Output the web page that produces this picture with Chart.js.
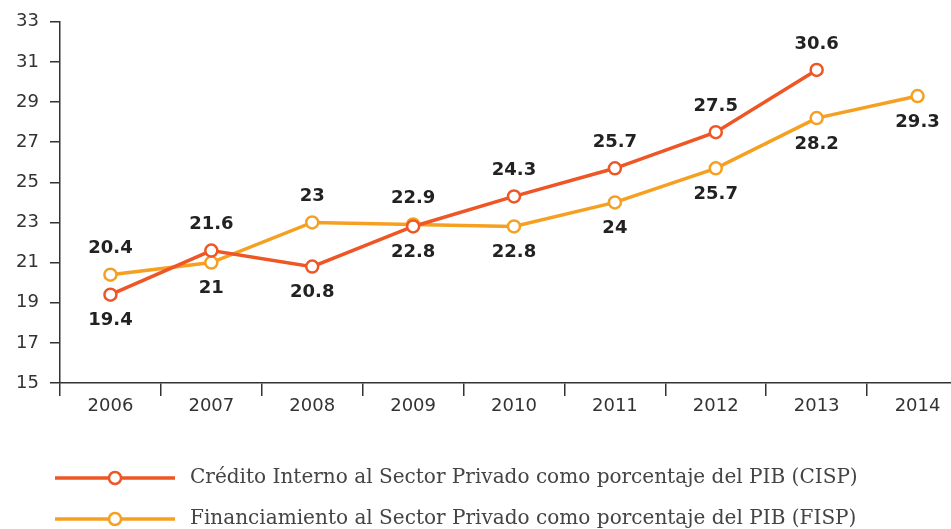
<!DOCTYPE html>
<html>
<head>
<meta charset="utf-8">
<script src="https://cdn.jsdelivr.net/npm/chart.js@4/dist/chart.umd.min.js"></script>
<style>
html,body{margin:0;padding:0;background:#fff;overflow:hidden;width:951px;height:529px;}
#wrap{width:990px;height:529px;}
</style>
</head>
<body>
<div id="wrap"><canvas id="c" width="990" height="529"></canvas></div>
<script>
const years = ['2006','2007','2008','2009','2010','2011','2012','2013','2014'];
const cispValues = [19.4, 21.6, 20.8, 22.8, 24.3, 25.7, 27.5, 30.6, null];
const fispValues = [20.4, 21.0, 23.0, 22.9, 22.8, 24.0, 25.7, 28.2, 29.3];
const cispLabel = 'Crédito Interno al Sector Privado como porcentaje del PIB (CISP)';
const fispLabel = 'Financiamiento al Sector Privado como porcentaje del PIB (FISP)';
// label placement: 1 = above the point, -1 = below
const cispLabelSide = [-1, 1, -1, -1, 1, 1, 1, 1, 1];
const fispLabelSide = [1, -1, 1, 1, -1, -1, -1, -1, -1];

const CISP_COLOR = '#EE5725';
const FISP_COLOR = '#F6A021';

const labelPlugin = {
  id: 'pointLabels',
  afterDatasetsDraw(chart) {
    const ctx = chart.ctx;
    ctx.save();
    ctx.font = 'bold 18px "DejaVu Sans"';
    ctx.fillStyle = '#222';
    ctx.textAlign = 'center';
    ctx.textBaseline = 'middle';
    chart.data.datasets.forEach((ds, i) => {
      const meta = chart.getDatasetMeta(i);
      const sides = ds.labelSides;
      meta.data.forEach((pt, j) => {
        const v = ds.data[j];
        if (v === null || v === undefined) return;
        ctx.fillText(String(v), pt.x, pt.y - sides[j] * 26);
      });
    });
    ctx.restore();
  }
};

const legendPlugin = {
  id: 'customLegend',
  afterDraw(chart) {
    const ctx = chart.ctx;
    ctx.save();
    const items = [
      {color: CISP_COLOR, text: cispLabel, y: 478},
      {color: FISP_COLOR, text: fispLabel, y: 519}
    ];
    ctx.font = '18px "DejaVu Serif"';
    const w = ctx.measureText(cispLabel).width;
    const fs = 18 * 668 / w;
    items.forEach(it => {
      ctx.strokeStyle = it.color;
      ctx.lineWidth = 3.5;
      ctx.beginPath();
      ctx.moveTo(55, it.y);
      ctx.lineTo(175, it.y);
      ctx.stroke();
      ctx.beginPath();
      ctx.arc(115, it.y, 6, 0, Math.PI * 2);
      ctx.fillStyle = '#fff';
      ctx.fill();
      ctx.lineWidth = 2.5;
      ctx.stroke();
      ctx.font = fs.toFixed(2) + 'px "DejaVu Serif"';
      ctx.fillStyle = '#444';
      ctx.textAlign = 'left';
      ctx.textBaseline = 'middle';
      ctx.fillText(it.text, 190, it.y);
    });
    ctx.restore();
  }
};

new Chart(document.getElementById('c'), {
  type: 'line',
  data: {
    labels: years,
    datasets: [
      {
        label: cispLabel,
        data: cispValues,
        labelSides: cispLabelSide,
        borderColor: CISP_COLOR,
        backgroundColor: '#fff',
        pointBackgroundColor: '#fff',
        pointBorderColor: CISP_COLOR,
        borderWidth: 3.5,
        pointRadius: 6,
        pointBorderWidth: 2.5,
        tension: 0,
        spanGaps: false
      },
      {
        label: fispLabel,
        data: fispValues,
        labelSides: fispLabelSide,
        borderColor: FISP_COLOR,
        backgroundColor: '#fff',
        pointBackgroundColor: '#fff',
        pointBorderColor: FISP_COLOR,
        borderWidth: 3.5,
        pointRadius: 6,
        pointBorderWidth: 2.5,
        tension: 0
      }
    ]
  },
  options: {
    responsive: false,
    animation: false,
    devicePixelRatio: 1,
    layout: {padding: {top: 21, right: 22, bottom: 0, left: 0}},
    plugins: {legend: {display: false}, tooltip: {enabled: false}},
    scales: {
      x: {
        type: 'category',
        offset: true,
        grid: {display: true, offset: true, drawOnChartArea: false, drawTicks: true, tickLength: 13, color: '#333', lineWidth: 1.5},
        border: {display: true, color: '#333', width: 1.5},
        ticks: {color: '#333', font: {family: '"DejaVu Sans"', size: 18}, padding: 0, maxRotation: 0, autoSkip: false},
        afterFit(scale) { scale.height = 146; }
      },
      y: {
        min: 15,
        max: 33,
        grid: {display: true, drawOnChartArea: false, drawTicks: true, tickLength: 10, color: '#333', lineWidth: 1.5},
        border: {display: true, color: '#333', width: 1.5},
        ticks: {stepSize: 2, color: '#333', font: {family: '"DejaVu Sans"', size: 18}, padding: 11},
        afterFit(scale) { scale.width = 60; }
      }
    }
  },
  plugins: [labelPlugin, legendPlugin]
});
</script>
</body>
</html>
